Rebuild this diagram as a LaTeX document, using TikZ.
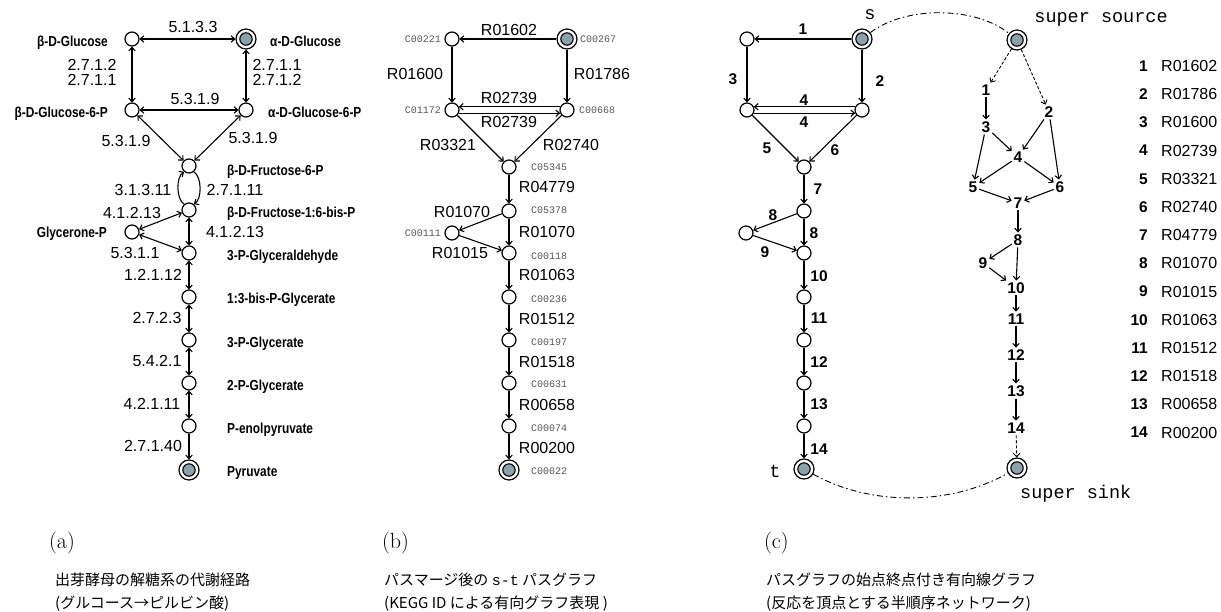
\documentclass[tikz,border=0pt]{standalone}
\usepackage{fontspec}
\usetikzlibrary{arrows.meta}
\newfontfamily\sans{Liberation Sans}
\newfontfamily\condb[FakeStretch=0.82]{Liberation Sans}
\newfontfamily\mono{Liberation Mono}
\newfontfamily\cjk{Noto Sans CJK JP}
\definecolor{nfill}{RGB}{140,162,170}
\definecolor{cidgray}{RGB}{85,85,85}
\begin{document}
\begin{tikzpicture}[x=1pt,y=-1pt,
  >={Straight Barb[length=3.5pt,width=6.5pt]},
  nd/.style={circle, draw, line width=1.2pt, minimum size=14pt, inner sep=0pt, fill=white},
  dnd/.style={circle, draw, line width=1.2pt, minimum size=20pt, inner sep=0pt, fill=white,
    path picture={\fill[nfill] (path picture bounding box.center) circle (6.2pt);
                  \draw[line width=1.1pt] (path picture bounding box.center) circle (6.2pt);}},
  edge/.style={line width=1.1pt},
  dedge/.style={line width=0.9pt, densely dashed},
  dd/.style={line width=0.9pt, dash pattern=on 6pt off 3pt on 1.5pt off 3pt},
  elab/.style={font=\sans\fontsize{16}{18}\selectfont, inner sep=0pt},
  clab/.style={font=\condb\bfseries\fontsize{14.5}{16}\selectfont, inner sep=0pt},
  cid/.style={font=\mono\fontsize{10}{12}\selectfont, text=cidgray, inner sep=0pt},
  num/.style={font=\sans\bfseries\fontsize{15.5}{17}\selectfont, inner sep=0pt},
  rn/.style={font=\sans\bfseries\fontsize{15.5}{17}\selectfont, inner sep=1.8pt},
  lcode/.style={font=\sans\fontsize{16}{18}\selectfont, inner sep=0pt},
  tt/.style={font=\mono\fontsize{18.5}{20}\selectfont, inner sep=0pt},
  capl/.style={font=\fontsize{22}{24}\selectfont, inner sep=0pt, anchor=west},
  capj/.style={font=\cjk\fontsize{15}{17}\selectfont, inner sep=0pt, anchor=west}
]
\useasboundingbox (0,0) rectangle (1221,611);

% ---------------- panel (a) ----------------
\node[nd]  (aBG)  at (132,39)  {};
\node[dnd] (aAG)  at (246,39)  {};
\node[nd]  (aBG6) at (132,110) {};
\node[nd]  (aAG6) at (246,110) {};
\node[nd]  (aF6)  at (189,166) {};
\node[nd]  (aFBP) at (189,210) {};
\node[nd]  (aGP)  at (132,232) {};
\node[nd]  (aGAP) at (189,253) {};
\node[nd]  (aBPG) at (189,297) {};
\node[nd]  (a3PG) at (189,340) {};
\node[nd]  (a2PG) at (189,383) {};
\node[nd]  (aPEP) at (189,426) {};
\node[dnd] (aPYR) at (189,470) {};

\node[clab, anchor=base east] (lBG)  at (108,46)  {β-D-Glucose};
\node[clab, anchor=base west] (lAG)  at (270,46)  {α-D-Glucose};
\node[clab, anchor=base east] (lBG6) at (108,117) {β-D-Glucose-6-P};
\node[clab, anchor=base west] (lAG6) at (268,117) {α-D-Glucose-6-P};
\node[clab, anchor=base west] (lF6)  at (227,175) {β-D-Fructose-6-P};
\node[clab, anchor=base west] (lFBP) at (227,217) {β-D-Fructose-1:6-bis-P};
\node[clab, anchor=base east] (lGP)  at (107,237) {Glycerone-P};
\node[clab, anchor=base west] (lGAP) at (227,260) {3-P-Glyceraldehyde};
\node[clab, anchor=base west] (lBPG) at (227,303) {1:3-bis-P-Glycerate};
\node[clab, anchor=base west] (l3PG) at (227,347) {3-P-Glycerate};
\node[clab, anchor=base west] (l2PG) at (227,390) {2-P-Glycerate};
\node[clab, anchor=base west] (lPEP) at (227,433) {P-enolpyruvate};
\node[clab, anchor=base west] (lPYR) at (227,476) {Pyruvate};

\draw[edge,<->] (aBG) -- (aAG);
\draw[edge,<->] (aBG) -- (aBG6);
\draw[edge,<->] (aAG) -- (aAG6);
\draw[edge,<->] (aBG6) -- (aAG6);
\draw[edge,<->] (aBG6) -- (aF6);
\draw[edge,<->] (aAG6) -- (aF6);
\draw[edge,->] (aFBP.130) .. controls (176,199) and (176,177) .. (aF6.230);
\draw[edge,->] (aF6.310) .. controls (202,177) and (202,199) .. (aFBP.50);
\draw[edge,<->] (aFBP) -- (aGP);
\draw[edge,<->] (aGP) -- (aGAP);
\draw[edge,<->] (aFBP) -- (aGAP);
\draw[edge,<->] (aGAP) -- (aBPG);
\draw[edge,<->] (aBPG) -- (a3PG);
\draw[edge,<->] (a3PG) -- (a2PG);
\draw[edge,<->] (a2PG) -- (aPEP);
\draw[edge,->] (aPEP) -- (aPYR);

\node[elab] (e1) at (193,27) {5.1.3.3};
\node[elab] (e2) at (92,65) {2.7.1.2};
\node[elab] (e3) at (92,80) {2.7.1.1};
\node[elab] (e4) at (277,65) {2.7.1.1};
\node[elab] (e5) at (277,80) {2.7.1.2};
\node[elab] (e6) at (195,99) {5.3.1.9};
\node[elab] (e7) at (126,141) {5.3.1.9};
\node[elab] (e8) at (253,138) {5.3.1.9};
\node[elab] (e9) at (143,190) {3.1.3.11};
\node[elab] (e10) at (235,190) {2.7.1.11};
\node[elab] (e11) at (132,213) {4.1.2.13};
\node[elab] (e12) at (235,232) {4.1.2.13};
\node[elab] (e13) at (135,253) {5.3.1.1};
\node[elab] (e14) at (153,275) {1.2.1.12};
\node[elab] (e15) at (157,318) {2.7.2.3};
\node[elab] (e16) at (157,361) {5.4.2.1};
\node[elab] (e17) at (152,404) {4.2.1.11};
\node[elab] (e18) at (153,446) {2.7.1.40};

% ---------------- panel (b) ----------------
\node[nd]  (b221)  at (452,39)  {};
\node[dnd] (b267)  at (567,39)  {};
\node[nd]  (b1172) at (452,110) {};
\node[nd]  (b668)  at (567,110) {};
\node[nd]  (b5345) at (509,167) {};
\node[nd]  (b5378) at (509,211) {};
\node[nd]  (b111)  at (452,233) {};
\node[nd]  (b118)  at (509,253) {};
\node[nd]  (b236)  at (509,297) {};
\node[nd]  (b197)  at (509,340) {};
\node[nd]  (b631)  at (509,383) {};
\node[nd]  (b74)   at (509,426) {};
\node[dnd] (b22)   at (509,470) {};

\node[cid, anchor=east] (c221)  at (441,39)  {C00221};
\node[cid, anchor=west] (c267)  at (580,39)  {C00267};
\node[cid, anchor=east] (c1172) at (441,110) {C01172};
\node[cid, anchor=west] (c668)  at (579,110) {C00668};
\node[cid, anchor=west] (c5345) at (531,167) {C05345};
\node[cid, anchor=west] (c5378) at (531,210) {C05378};
\node[cid, anchor=east] (c111)  at (441,233) {C00111};
\node[cid, anchor=west] (c118)  at (531,256) {C00118};
\node[cid, anchor=west] (c236)  at (531,299) {C00236};
\node[cid, anchor=west] (c197)  at (531,342) {C00197};
\node[cid, anchor=west] (c631)  at (531,384) {C00631};
\node[cid, anchor=west] (c74)   at (531,428) {C00074};
\node[cid, anchor=west] (c22)   at (531,471) {C00022};

\draw[edge,->] (b267) -- (b221);
\draw[edge,->] (b221) -- (b1172);
\draw[edge,->] (b267) -- (b668);
\draw[edge,->] (b668.155) -- (b1172.25);
\draw[edge,->] (b1172.-25) -- (b668.205);
\draw[edge,->] (b1172) -- (b5345);
\draw[edge,->] (b668) -- (b5345);
\draw[edge,->] (b5345) -- (b5378);
\draw[edge,->] (b5378) -- (b111);
\draw[edge,->] (b5378) -- (b118);
\draw[edge,->] (b111) -- (b118);
\draw[edge,->] (b118) -- (b236);
\draw[edge,->] (b236) -- (b197);
\draw[edge,->] (b197) -- (b631);
\draw[edge,->] (b631) -- (b74);
\draw[edge,->] (b74) -- (b22);

\node[elab] (r1) at (509,30) {R01602};
\node[elab] (r2) at (415,74) {R01600};
\node[elab] (r3) at (602,74) {R01786};
\node[elab] (r4) at (509,98) {R02739};
\node[elab] (r5) at (509,122) {R02739};
\node[elab] (r6) at (448,145) {R03321};
\node[elab] (r7) at (571,145) {R02740};
\node[elab] (r8) at (547,187) {R04779};
\node[elab] (r9) at (462,212) {R01070};
\node[elab] (r10) at (547,232) {R01070};
\node[elab] (r11) at (460,253) {R01015};
\node[elab] (r12) at (547,275) {R01063};
\node[elab] (r13) at (547,319) {R01512};
\node[elab] (r14) at (547,362) {R01518};
\node[elab] (r15) at (547,405) {R00658};
\node[elab] (r16) at (547,448) {R00200};

% ---------------- panel (c), left ----------------
\node[dnd] (cS) at (862,39)  {};
\node[nd]  (cA) at (747,39)  {};
\node[nd]  (cB) at (747,110) {};
\node[nd]  (cC) at (862,110) {};
\node[nd]  (cD) at (804,167) {};
\node[nd]  (cE) at (804,211) {};
\node[nd]  (cF) at (746,233) {};
\node[nd]  (cG) at (804,253) {};
\node[nd]  (cH) at (804,297) {};
\node[nd]  (cI) at (804,340) {};
\node[nd]  (cJ) at (804,383) {};
\node[nd]  (cK) at (804,426) {};
\node[dnd] (cT) at (804,469) {};

\node[tt] (sl) at (870,15) {s};
\node[tt] (tl) at (775,471) {t};

\draw[edge,->] (cS) -- (cA);
\draw[edge,->] (cA) -- (cB);
\draw[edge,->] (cS) -- (cC);
\draw[edge,->] (cC.155) -- (cB.25);
\draw[edge,->] (cB.-25) -- (cC.205);
\draw[edge,->] (cB) -- (cD);
\draw[edge,->] (cC) -- (cD);
\draw[edge,->] (cD) -- (cE);
\draw[edge,->] (cE) -- (cF);
\draw[edge,->] (cE) -- (cG);
\draw[edge,->] (cF) -- (cG);
\draw[edge,->] (cG) -- (cH);
\draw[edge,->] (cH) -- (cI);
\draw[edge,->] (cI) -- (cJ);
\draw[edge,->] (cJ) -- (cK);
\draw[edge,->] (cK) -- (cT);

\node[num] (n1)  at (803,29)  {1};
\node[num] (n3)  at (733,79)  {3};
\node[num] (n2)  at (880,81)  {2};
\node[num] (n4a) at (804,100) {4};
\node[num] (n4b) at (804,122) {4};
\node[num] (n5)  at (767,148) {5};
\node[num] (n6)  at (835,150) {6};
\node[num] (n7)  at (818,189) {7};
\node[num] (n8a) at (773,215) {8};
\node[num] (n8b) at (814,233) {8};
\node[num] (n9)  at (765,252) {9};
\node[num] (n10) at (819,276) {10};
\node[num] (n11) at (819,318) {11};
\node[num] (n12) at (819,362) {12};
\node[num] (n13) at (819,404) {13};
\node[num] (n14) at (819,449) {14};

% ---------------- panel (c), right ----------------
\node[dnd] (SS) at (1017,40)  {};
\node[dnd] (SK) at (1017,468) {};
\node[tt] (ssl) at (1101,19) {super source};
\node[tt, anchor=west] (skl) at (1020,494) {super sink};

\node[rn] (q1)  at (986,90)   {1};
\node[rn] (q2)  at (1049,112) {2};
\node[rn] (q3)  at (986,127)  {3};
\node[rn] (q4)  at (1018,157) {4};
\node[rn] (q5)  at (973,187)  {5};
\node[rn] (q6)  at (1060,187) {6};
\node[rn] (q7)  at (1018,203) {7};
\node[rn] (q8)  at (1018,240) {8};
\node[rn] (q9)  at (983,263)  {9};
\node[rn] (q10) at (1016,288) {10};
\node[rn] (q11) at (1016,319) {11};
\node[rn] (q12) at (1016,355) {12};
\node[rn] (q13) at (1016,391) {13};
\node[rn] (q14) at (1016,428) {14};

\draw[dedge,->] (SS) -- (q1);
\draw[dedge,->] (SS) -- (q2);
\draw[edge,->] (q1) -- (q3);
\draw[edge,->] (q3) -- (q4);
\draw[edge,->] (q3) -- (q5);
\draw[edge,->] (q2) -- (q4);
\draw[edge,->] (q2) -- (q6);
\draw[edge,->] (q4) -- (q5);
\draw[edge,->] (q4) -- (q6);
\draw[edge,->] (q5) -- (q7);
\draw[edge,->] (q6) -- (q7);
\draw[edge,->] (q7) -- (q8);
\draw[edge,->] (q8) -- (q9);
\draw[edge,->] (q8) -- (q10);
\draw[edge,->] (q9) -- (q10);
\draw[edge,->] (q10) -- (q11);
\draw[edge,->] (q11) -- (q12);
\draw[edge,->] (q12) -- (q13);
\draw[edge,->] (q13) -- (q14);
\draw[dedge,->] (q14) -- (SK);

\draw[dd] (cS) .. controls (905,6) and (975,6) .. (SS);
\draw[dd] (cT) .. controls (870,506) and (950,506) .. (SK);

\foreach \i/\r in {1/R01602,2/R01786,3/R01600,4/R02739,5/R03321,6/R02740,7/R04779,
                   8/R01070,9/R01015,10/R01063,11/R01512,12/R01518,13/R00658,14/R00200}{
  \node[num, anchor=east] (ln\i) at (1148,{66+(\i-1)*28.2}) {\i};
  \node[lcode, anchor=west] (lc\i) at (1161,{66+(\i-1)*28.2}) {\r};
}

% ---------------- captions ----------------
\node[capl] (capa) at (49,543) {(a)};
\node[capj] (capa1) at (55,580) {出芽酵母の解糖系の代謝経路};
\node[capj] (capa2) at (55,604) {(グルコース→ピルビン酸)};
\node[capl] (capb) at (382,543) {(b)};
\node[capj] (capb1) at (384,580) {パスマージ後の {\mono s-t} パスグラフ};
\node[capj] (capb2) at (384,604) {(KEGG ID による有向グラフ表現 )};
\node[capl] (capc) at (764,543) {(c)};
\node[capj] (capc1) at (766,580) {パスグラフの始点終点付き有向線グラフ};
\node[capj] (capc2) at (766,604) {(反応を頂点とする半順序ネットワーク)};
\end{tikzpicture}
\end{document}
